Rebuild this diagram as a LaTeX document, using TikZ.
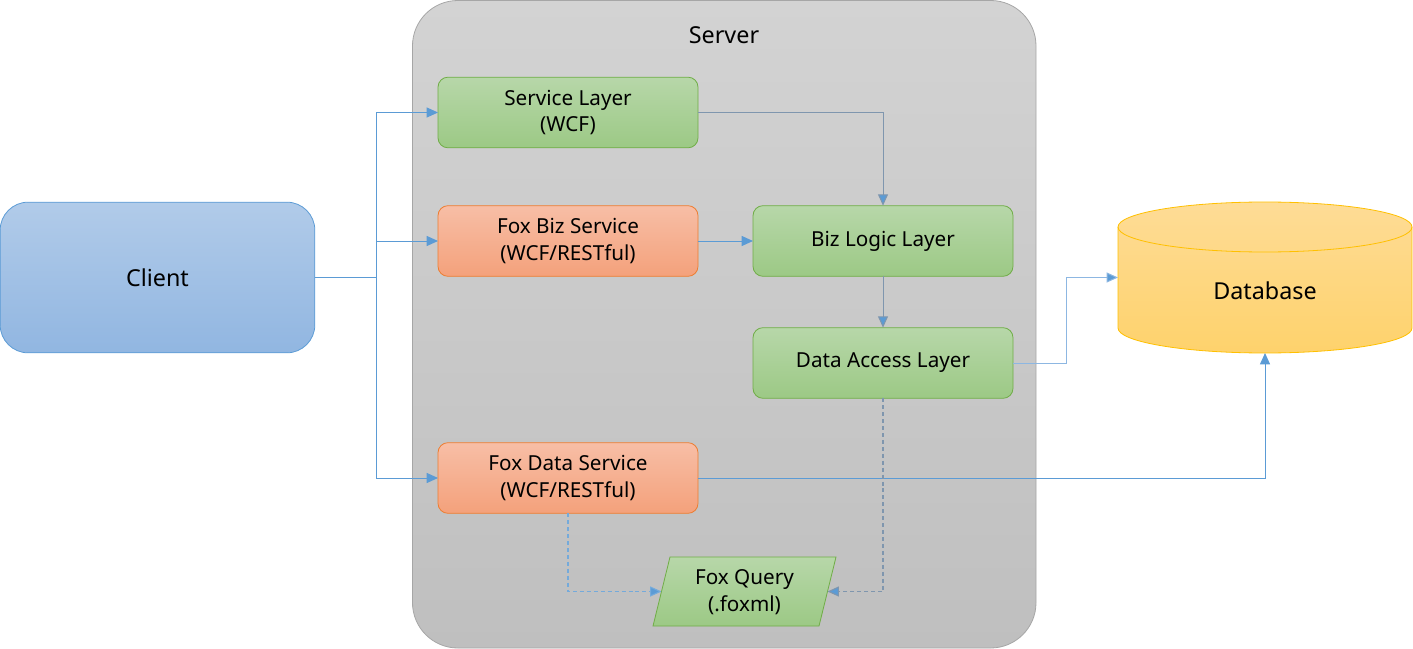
\documentclass[tikz,border=0pt]{standalone}
\usepackage{fontspec}
\setmainfont{Noto Sans}
\usetikzlibrary{arrows.meta,calc}
\definecolor{conn}{HTML}{5B9BD5}
\definecolor{connlight}{HTML}{8DB7E2}
\definecolor{conngray}{HTML}{7F96AE}
\definecolor{greenborder}{HTML}{70AD47}
\definecolor{greentop}{HTML}{B7D7A9}
\definecolor{greenbot}{HTML}{9CC985}
\definecolor{orangeborder}{HTML}{ED7D31}
\definecolor{orangetop}{HTML}{F7BEA6}
\definecolor{orangebot}{HTML}{F4A17B}
\definecolor{bluetop}{HTML}{B1CBE9}
\definecolor{bluebot}{HTML}{91B6E1}
\definecolor{servertop}{HTML}{D3D3D3}
\definecolor{serverbot}{HTML}{BFBFBF}
\definecolor{serverborder}{HTML}{A6A6A6}
\definecolor{dbtop}{HTML}{FEDC96}
\definecolor{dbbot}{HTML}{FED26C}
\definecolor{dbborder}{HTML}{FFC000}
\tikzset{
  box/.style={draw, rounded corners=7.5pt, line width=0.6pt, inner sep=0pt, outer sep=0pt,
    minimum width=195pt, minimum height=53pt, align=center, font=\fontsize{15.5}{20}\selectfont},
  greenbox/.style={box, draw=greenborder, top color=greentop, bottom color=greenbot},
  orangebox/.style={box, draw=orangeborder, top color=orangetop, bottom color=orangebot},
  tip/.style={-{Triangle[length=8.5pt,width=7.5pt,fill=conn]}},
  link/.style={draw=conn, line width=0.75pt, tip},
  plainlink/.style={draw=conn, line width=0.75pt},
  dlink/.style={draw=conn!85, line width=0.8pt, dash pattern=on 3pt off 2.2pt, tip},
}
\begin{document}
\begin{tikzpicture}[x=0.75pt,y=-0.75pt]
\useasboundingbox (0,0) rectangle (1413,649);
% server
\draw[draw=serverborder, line width=0.6pt, top color=servertop, bottom color=serverbot, rounded corners=34pt]
  (412.5,0.5) rectangle (1036,648);
\node[font=\fontsize{17.5}{20}\selectfont] (server) at (724,35) {Server};
% client
\node[draw=conn, line width=0.6pt, rounded corners=21pt, top color=bluetop, bottom color=bluebot,
  minimum width=236pt, minimum height=113pt, inner sep=0pt, outer sep=0pt,
  font=\fontsize{17.5}{20}\selectfont] (client) at (157.5,277.5) {Client};
% boxes
\node[greenbox] (svc) at (568,112.5) {Service Layer\\(WCF)};
\node[orangebox] (biz) at (568,241) {Fox Biz Service\\(WCF/RESTful)};
\node[greenbox] (logic) at (883,241) {Biz Logic Layer};
\node[greenbox] (dal) at (883,363) {Data Access Layer};
\node[orangebox] (fds) at (568,478) {Fox Data Service\\(WCF/RESTful)};
% fox query parallelogram
\draw[draw=greenborder, line width=0.6pt, top color=greentop, bottom color=greenbot]
  (670,557) -- (836,557) -- (819,626) -- (653,626) -- cycle;
\node[align=center, font=\fontsize{15.5}{20}\selectfont] (fq) at (744.5,592) {Fox Query\\(.foxml)};
\coordinate (fqW) at (661.5,591.5);
\coordinate (fqE) at (827.5,591.5);
% database cylinder
\node[minimum width=220.5pt, minimum height=113.25pt, inner sep=0pt, outer sep=0pt] (db) at (1265,277.5) {};
\draw[draw=dbborder, line width=0.6pt, top color=dbtop, bottom color=dbbot]
  (1118,227) -- (1118,328) arc[start angle=180, end angle=0, x radius=147, y radius=25]
  -- (1412,227) arc[start angle=0, end angle=-180, x radius=147, y radius=25] -- cycle;
\draw[draw=dbborder, line width=0.6pt] (1118,227) arc[start angle=180, end angle=0, x radius=147, y radius=25];
\node[font=\fontsize{17.5}{20}\selectfont] (dblabel) at (1265,291) {Database};
% connectors
\coordinate (split) at (376,277.5);
\draw[plainlink] (client.east) -- (split);
\draw[link] (split) |- (svc.west);
\draw[link] (split) |- (biz.west);
\draw[link] (split) |- (fds.west);
\draw[link, draw=conngray] (svc.east) -| (logic.north);
\draw[link] (biz.east) -- (logic.west);
\draw[link, draw=conngray] (logic.south) -- (dal.north);
\draw[link, draw=connlight] (dal.east) -- ++(53,0) |- (db.west);
\draw[link] (fds.east) -| (db.south);
\draw[dlink] (fds.south) |- (fqW);
\draw[dlink, draw=conngray] (dal.south) |- (fqE);
\end{tikzpicture}
\end{document}
